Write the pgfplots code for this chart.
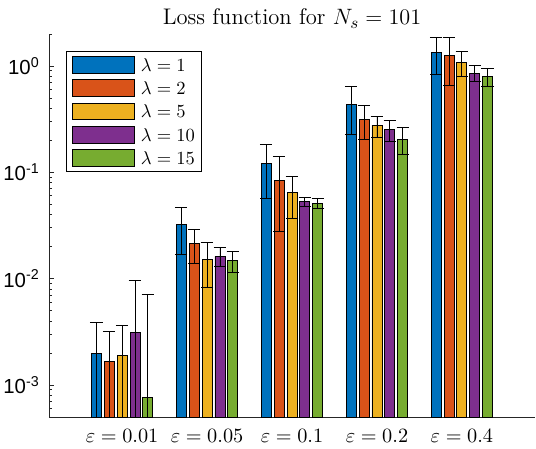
\documentclass[border=0pt]{standalone}
\usepackage{fontspec}
\newfontfamily\helv{Liberation Sans}
\usepackage{pgfplots}
\pgfplotsset{compat=1.18}
\usepackage{pgfplotstable}
\definecolor{c1}{rgb}{0,0.447,0.741}
\definecolor{c2}{rgb}{0.851,0.325,0.098}
\definecolor{c3}{rgb}{0.929,0.694,0.125}
\definecolor{c4}{rgb}{0.494,0.184,0.556}
\definecolor{c5}{rgb}{0.466,0.674,0.188}
\pgfplotstableread{
x y ep em
1 1.99e-3 1.90e-3 1.89e-3
2 0.0325 0.0144 0.0156
3 0.1216 0.0620 0.0646
4 0.439 0.209 0.211
5 1.346 0.516 0.511
}\tA
\pgfplotstableread{
x y ep em
1 1.67e-3 1.53e-3 1.53e-3
2 0.0215 0.0076 0.0076
3 0.0841 0.0584 0.0562
4 0.315 0.108 0.110
5 1.26 0.602 0.602
}\tB
\pgfplotstableread{
x y ep em
1 1.90e-3 1.74e-3 1.74e-3
2 0.0152 0.0066 0.0069
3 0.0649 0.0261 0.0279
4 0.277 0.057 0.0635
5 1.083 0.281 0.283
}\tC
\pgfplotstableread{
x y ep em
1 3.13e-3 6.53e-3 3.03e-3
2 0.0162 0.0035 0.00305
3 0.0537 0.0045 0.0058
4 0.254 0.054 0.058
5 0.854 0.161 0.136
}\tD
\pgfplotstableread{
x y ep em
1 7.66e-4 6.36e-3 6.66e-4
2 0.0149 0.0032 0.00343
3 0.0512 0.0058 0.0053
4 0.2045 0.0605 0.0565
5 0.794 0.150 0.150
}\tE
\pgfplotsset{
  mylegend/.style={legend image code/.code={%
    \path (0pt,0pt) (36.3pt,0pt);
    \draw[##1,draw=black,line width=0.5pt] (2.8pt,-4.5pt) rectangle (36.3pt,4.5pt);}},
  myerr/.style={error bars/.cd, y dir=both, y explicit,
    error bar style={black, line width=0.5pt},
    error mark options={black, line width=0.5pt, mark size=3.4pt, rotate=90}},
}
\begin{document}
\begin{tikzpicture}
\begin{axis}[
  width=262.4pt, height=206.8pt, scale only axis,
  ymode=log, log origin y=infty,
  xmin=0.14, xmax=5.86, ymin=5e-4, ymax=2,
  axis x line*=bottom, axis y line*=left,
  axis line style={-, black!85, line width=0.5pt},
  ybar=1.58pt, bar width=5.4pt,
  xtick={1,2,3,4,5},
  xticklabels={$\varepsilon=0.01$,$\varepsilon=0.05$,$\varepsilon=0.1$,$\varepsilon=0.2$,$\varepsilon=0.4$},
  x tick style={draw=none},
  xticklabel style={font=\fontsize{11}{13}\selectfont, anchor=base, yshift=-13.5pt},
  ytick={1e-3,1e-2,1e-1,1},
  yticklabels={10\textsuperscript{-3},10\textsuperscript{-2},10\textsuperscript{-1},10\textsuperscript{0}},
  minor ytick={6e-4,7e-4,8e-4,9e-4,2e-3,3e-3,4e-3,5e-3,6e-3,7e-3,8e-3,9e-3,2e-2,3e-2,4e-2,5e-2,6e-2,7e-2,8e-2,9e-2,0.2,0.3,0.4,0.5,0.6,0.7,0.8,0.9,2},
  yticklabel style={font=\helv\fontsize{11}{13}\selectfont, xshift=-1.5pt},
  y tick style={black!85, line width=0.5pt},
  major tick length=2.7pt, minor tick length=1.5pt,
  tick align=inside,
  every axis title/.style={at={(0.5,1)}, anchor=base, yshift=4.9pt, font=\fontsize{12.2}{14}\selectfont},
  title={Loss function for $N_s=101$},
  legend style={at={(0.035,0.956)}, anchor=north west, draw=black, line width=0.5pt,
    inner xsep=0.4pt, inner ysep=0.9pt, row sep=0pt,
    font=\fontsize{10}{12}\selectfont,
    nodes={inner ysep=2.8pt, inner xsep=3pt, text height=7pt, text depth=0pt}},
  legend cell align=left,
]
\addplot[fill=c1, draw=black, line width=0.5pt, mylegend, myerr] table[x=x, y=y, y error plus=ep, y error minus=em] {\tA};
\addplot[fill=c2, draw=black, line width=0.5pt, mylegend, myerr] table[x=x, y=y, y error plus=ep, y error minus=em] {\tB};
\addplot[fill=c3, draw=black, line width=0.5pt, mylegend, myerr] table[x=x, y=y, y error plus=ep, y error minus=em] {\tC};
\addplot[fill=c4, draw=black, line width=0.5pt, mylegend, myerr] table[x=x, y=y, y error plus=ep, y error minus=em] {\tD};
\addplot[fill=c5, draw=black, line width=0.5pt, mylegend, myerr] table[x=x, y=y, y error plus=ep, y error minus=em] {\tE};
\legend{$\lambda=1$,$\lambda=2$,$\lambda=5$,$\lambda=10$,$\lambda=15$}
\coordinate (bl) at (rel axis cs:0,0);
\coordinate (tr) at (rel axis cs:1,1);
\end{axis}
\pgfresetboundingbox
\path[use as bounding box] ([xshift=-26.46pt,yshift=-16.74pt]bl) rectangle ([xshift=0.54pt,yshift=18.36pt]tr);
\end{tikzpicture}
\end{document}
